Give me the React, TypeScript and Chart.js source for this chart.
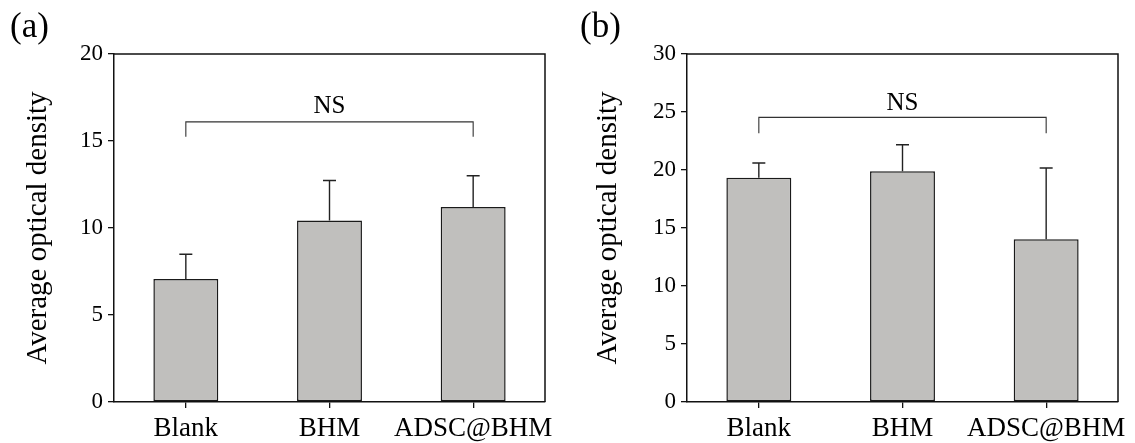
import React, { useEffect, useRef } from 'react';
import { Chart, registerables } from 'chart.js';

Chart.register(...registerables);

const FONT = '"Liberation Serif", "Times New Roman", Times, serif';

const categories = ['Blank', 'BHM', 'ADSC@BHM'];
const valuesA = [7.07, 10.43, 11.2];
const errorsA = [1.42, 2.3, 1.8];
const valuesB = [19.34, 19.89, 14.02];
const errorsB = [1.26, 2.29, 6.15];
const yMaxA = 20;
const yMaxB = 30;
const yStep = 5;
const bracketA = { from: 0, to: 2, top: 16.1, foot: 15.25, text: 'NS', textY: 16.6 };
const bracketB = { from: 0, to: 2, top: 24.54, foot: 23.16, text: 'NS', textY: 25.17 };
const panelLabels = ['(a)', '(b)'];
const yTitle = 'Average optical density';

function makeErrorBars(errors: number[]) {
  return {
    id: 'errorBars',
    afterDatasetsDraw(chart: any) {
      const { ctx } = chart;
      const meta = chart.getDatasetMeta(0);
      const y = chart.scales.y;
      const data = chart.data.datasets[0].data as number[];
      ctx.save();
      ctx.strokeStyle = '#222';
      ctx.lineWidth = 1.4;
      meta.data.forEach((bar: any, i: number) => {
        const top = y.getPixelForValue(data[i] + errors[i]);
        ctx.beginPath();
        ctx.moveTo(bar.x, bar.y);
        ctx.lineTo(bar.x, top);
        ctx.moveTo(bar.x - 6.5, top);
        ctx.lineTo(bar.x + 6.5, top);
        ctx.stroke();
      });
      ctx.restore();
    },
  };
}

function makeBracket(b: { from: number; to: number; top: number; foot: number; text: string; textY: number }) {
  return {
    id: 'bracket',
    afterDatasetsDraw(chart: any) {
      const { ctx } = chart;
      const x = chart.scales.x;
      const y = chart.scales.y;
      const x0 = x.getPixelForValue(b.from);
      const x1 = x.getPixelForValue(b.to);
      const yt = y.getPixelForValue(b.top);
      const yf = y.getPixelForValue(b.foot);
      ctx.save();
      ctx.strokeStyle = '#333';
      ctx.lineWidth = 1.1;
      ctx.beginPath();
      ctx.moveTo(x0, yf);
      ctx.lineTo(x0, yt);
      ctx.lineTo(x1, yt);
      ctx.lineTo(x1, yf);
      ctx.stroke();
      ctx.fillStyle = '#000';
      ctx.font = `25px ${FONT}`;
      ctx.textAlign = 'center';
      ctx.textBaseline = 'alphabetic';
      ctx.fillText(b.text, (x0 + x1) / 2, y.getPixelForValue(b.textY));
      ctx.restore();
    },
  };
}

const framePlugin = {
  id: 'frame',
  afterDraw(chart: any) {
    const { ctx, chartArea } = chart;
    ctx.save();
    ctx.strokeStyle = '#111';
    ctx.lineWidth = 1.5;
    ctx.beginPath();
    ctx.moveTo(chartArea.left, chartArea.top);
    ctx.lineTo(chartArea.right, chartArea.top);
    ctx.lineTo(chartArea.right, chartArea.bottom);
    ctx.stroke();
    ctx.restore();
  },
};

function makePanelLabel(text: string, x: number) {
  return {
    id: 'panelLabel',
    afterDraw(chart: any) {
      const { ctx } = chart;
      ctx.save();
      ctx.fillStyle = '#000';
      ctx.font = `35px ${FONT}`;
      ctx.textAlign = 'left';
      ctx.textBaseline = 'alphabetic';
      ctx.fillText(text, x, 37);
      ctx.restore();
    },
  };
}

type PanelProps = {
  values: number[];
  errors: number[];
  yMax: number;
  bracket: any;
  label: string;
  width: number;
  yAxisWidth: number;
  rightPad: number;
  titlePad: number;
  labelX: number;
};

function Panel(p: PanelProps) {
  const ref = useRef<HTMLCanvasElement | null>(null);
  useEffect(() => {
    if (!ref.current) return;
    const chart = new Chart(ref.current, {
      type: 'bar',
      data: {
        labels: categories,
        datasets: [
          {
            data: p.values,
            backgroundColor: '#c0bfbd',
            borderColor: '#1a1a1a',
            borderWidth: 1.5,
            borderSkipped: false,
            categoryPercentage: 1,
            barPercentage: 0.452,
          },
        ],
      },
      options: {
        responsive: false,
        animation: false,
        layout: { padding: { top: 54, right: p.rightPad, left: 0, bottom: 0 } },
        plugins: { legend: { display: false }, tooltip: { enabled: false } },
        scales: {
          x: {
            offset: true,
            ticks: {
              color: '#000',
              font: { family: FONT, size: 27 },
              padding: 5,
              autoSkip: false,
              maxRotation: 0,
              minRotation: 0,
            },
            grid: { offset: false, drawOnChartArea: false, drawTicks: true, tickLength: 6, color: '#111', lineWidth: 1.3 },
            border: { display: true, color: '#111', width: 1.5 },
            afterFit: (s: any) => {
              s.height = 41;
            },
          },
          y: {
            min: 0,
            max: p.yMax,
            ticks: { stepSize: yStep, color: '#000', font: { family: FONT, size: 23 }, padding: 5 },
            grid: { drawOnChartArea: false, drawTicks: true, tickLength: 6, color: '#111', lineWidth: 1.3 },
            border: { display: true, color: '#111', width: 1.5 },
            title: {
              display: true,
              text: yTitle,
              color: '#000',
              font: { family: FONT, size: 29 },
              padding: { top: p.titlePad, bottom: 0 },
            },
            afterFit: (s: any) => {
              s.width = p.yAxisWidth;
            },
          },
        },
      },
      plugins: [makeErrorBars(p.errors), makeBracket(p.bracket), framePlugin, makePanelLabel(p.label, p.labelX)],
    });
    return () => chart.destroy();
  }, []);
  return <canvas ref={ref} width={p.width} height={443} style={{ display: 'block' }} />;
}

export default function App() {
  return (
    <div style={{ position: 'absolute', left: 0, top: 0, width: 1135, height: 443, background: '#fff' }}>
      <div style={{ position: 'absolute', left: 0, top: 0 }}>
        <Panel
          values={valuesA}
          errors={errorsA}
          yMax={yMaxA}
          bracket={bracketA}
          label={panelLabels[0]}
          width={560}
          yAxisWidth={114}
          rightPad={15}
          titlePad={21}
          labelX={10}
        />
      </div>
      <div style={{ position: 'absolute', left: 560, top: 0 }}>
        <Panel
          values={valuesB}
          errors={errorsB}
          yMax={yMaxB}
          bracket={bracketB}
          label={panelLabels[1]}
          width={575}
          yAxisWidth={127}
          rightPad={17}
          titlePad={31}
          labelX={20}
        />
      </div>
    </div>
  );
}
